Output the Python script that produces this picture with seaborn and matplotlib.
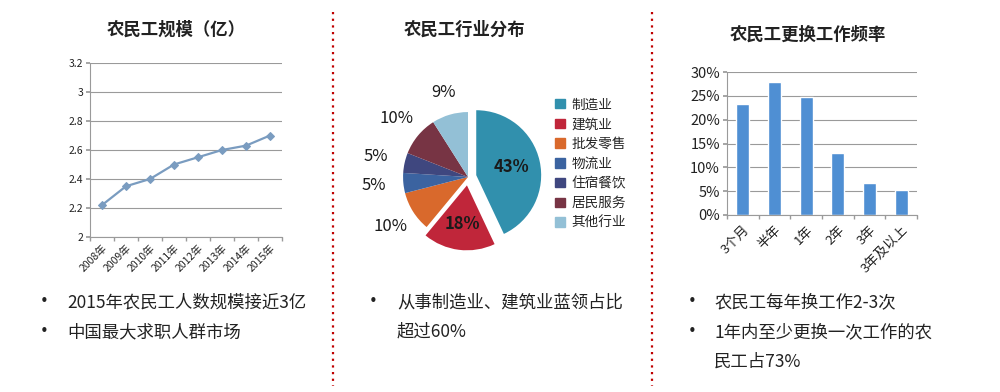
import numpy as np
import pandas as pd
import matplotlib
matplotlib.use("Agg")
import matplotlib.pyplot as plt
import matplotlib.patches as mpatches
from matplotlib.lines import Line2D
import seaborn as sns

# data
years = ['2008年', '2009年', '2010年', '2011年', '2012年', '2013年', '2014年', '2015年']
scale = [2.22, 2.35, 2.40, 2.50, 2.55, 2.60, 2.63, 2.70]

industries = ['制造业', '建筑业', '批发零售', '物流业', '住宿餐饮', '居民服务', '其他行业']
shares = [43, 18, 10, 5, 5, 10, 9]

freq_labels = ['3个月', '半年', '1年', '2年', '3年', '3年及以上']
freq = [23.3, 27.8, 24.7, 13.0, 6.7, 5.2]

bullets_left = ['2015年农民工人数规模接近3亿', '中国最大求职人群市场']
bullets_mid = ['从事制造业、建筑业蓝领占比', '超过60%']
bullets_right = ['农民工每年换工作2-3次', '1年内至少更换一次工作的农', '民工占73%']

sns.set_theme(style='white')
plt.rcParams['font.family'] = ['Noto Sans CJK SC', 'DejaVu Sans']
plt.rcParams['axes.unicode_minus'] = False

W, H = 1000, 392
fig = plt.figure(figsize=(10, 3.92), dpi=100)
fig.patch.set_facecolor('white')


def px_axes(x0, y0, x1, y1):
    # pixel box (top-left origin) -> figure axes
    return fig.add_axes([x0 / W, 1 - y1 / H, (x1 - x0) / W, (y1 - y0) / H])


grid_c = '#9a9a9a'
text_c = '#222222'

# ---- left: line chart ----
ax1 = px_axes(90, 63, 282, 237)
df1 = pd.DataFrame({'year': years, 'val': scale, 'x': np.arange(len(years))})
sns.lineplot(data=df1, x='x', y='val', ax=ax1, color='#7a9cc0', lw=1.6,
             marker='D', markersize=4, markeredgecolor='#7a9cc0')
ax1.set_xlim(-0.5, len(years) - 0.5)
ax1.set_ylim(2, 3.2)
ax1.set_yticks(np.arange(2, 3.21, 0.2))
ax1.set_yticklabels(['2', '2.2', '2.4', '2.6', '2.8', '3', '3.2'], fontsize=7.5, color=text_c)
ax1.set_xticks(np.arange(len(years)))
ax1.set_xticklabels(years, rotation=45, ha='right', rotation_mode='anchor', fontsize=7.5, color=text_c)
ax1.set_xticks(np.arange(-0.5, len(years)), minor=True)
ax1.tick_params(axis='x', which='major', length=0, pad=4)
ax1.tick_params(axis='x', which='minor', length=3, color=grid_c, direction='out', bottom=True)
ax1.tick_params(axis='y', length=3, color=grid_c, direction='out', left=True, pad=2)
ax1.grid(axis='y', color=grid_c, lw=0.8)
ax1.set_xlabel('')
ax1.set_ylabel('')
for s in ['top', 'right']:
    ax1.spines[s].set_visible(False)
for s in ['left', 'bottom']:
    ax1.spines[s].set_color(grid_c)
    ax1.spines[s].set_linewidth(0.8)

# ---- middle: pie ----
pie_colors = ['#3190ad', '#c0263a', '#d9692c', '#3b63a0', '#3f477f', '#773444', '#93c0d6']
ax2 = px_axes(368, 77, 568, 277)
explode = [0.13, 0.13, 0, 0, 0, 0, 0]
wedges, _ = ax2.pie(shares, colors=pie_colors, startangle=90, counterclock=False,
                    explode=explode, radius=1, wedgeprops=dict(linewidth=0))
ax2.set_xlim(-1.54, 1.54)
ax2.set_ylim(-1.54, 1.54)
ax2.set_aspect('equal')
ax2.axis('off')
label_r = [0.55, 0.6, 1.42, 1.45, 1.45, 1.42, 1.35]
for i, (w, v, r) in enumerate(zip(wedges, shares, label_r)):
    ang = np.deg2rad((w.theta1 + w.theta2) / 2)
    cx, cy = w.center
    ax2.text(cx + r * np.cos(ang), cy + r * np.sin(ang), f'{v}%', ha='center', va='center',
             fontsize=12, fontweight='bold' if i < 2 else 'medium', color='#1a1a1a', clip_on=False)

handles = [mpatches.Patch(color=c, label=l) for c, l in zip(pie_colors, industries)]
fig.legend(handles=handles, loc='upper left', bbox_to_anchor=(550 / W, 1 - 92 / H),
           frameon=False, fontsize=9.8, handlelength=0.7, handleheight=0.7,
           handletextpad=0.5, labelspacing=0.42, borderaxespad=0)

# ---- right: bar chart ----
ax3 = px_axes(727, 72, 917, 215)
df3 = pd.DataFrame({'label': freq_labels, 'val': freq})
sns.barplot(data=df3, x='label', y='val', ax=ax3, color='#4f8fd3', width=0.42, saturation=1)
ax3.set_xlim(-0.5, len(freq_labels) - 0.5)
ax3.set_ylim(0, 30)
ax3.set_yticks(np.arange(0, 31, 5))
ax3.set_yticklabels([f'{v}%' for v in range(0, 31, 5)], fontsize=10.5, color=text_c)
ax3.set_xticks(np.arange(len(freq_labels)))
ax3.set_xticklabels(freq_labels, rotation=45, ha='right', rotation_mode='anchor', fontsize=9.5, color=text_c)
ax3.set_xticks(np.arange(-0.5, len(freq_labels)), minor=True)
ax3.tick_params(axis='x', which='major', length=0, pad=6)
ax3.tick_params(axis='x', which='minor', length=3, color=grid_c, direction='out', bottom=True)
ax3.tick_params(axis='y', length=3, color=grid_c, direction='out', left=True, pad=2)
ax3.grid(axis='y', color=grid_c, lw=0.8)
ax3.set_axisbelow(True)
ax3.set_xlabel('')
ax3.set_ylabel('')
for s in ['top', 'right']:
    ax3.spines[s].set_visible(False)
for s in ['left', 'bottom']:
    ax3.spines[s].set_color(grid_c)
    ax3.spines[s].set_linewidth(0.8)

# ---- titles ----
fig.text(176 / W, 1 - 30 / H, '农民工规模（亿）', ha='center', va='center', fontsize=12.5, fontweight='bold', color=text_c)
fig.text(465 / W, 1 - 30 / H, '农民工行业分布', ha='center', va='center', fontsize=12.5, fontweight='bold', color=text_c)
fig.text(808 / W, 1 - 35 / H, '农民工更换工作频率', ha='center', va='center', fontsize=12.5, fontweight='bold', color=text_c)

# ---- separators ----
for xp in [333, 652]:
    fig.add_artist(Line2D([xp / W, xp / W], [1 - 12 / H, 1 - 386 / H], color='#c00000',
                          lw=1.6, linestyle=(0, (1, 2))))

# ---- bullet text ----
def bullets(x_dot, x_txt, lines, dots):
    for i, (t, d) in enumerate(zip(lines, dots)):
        y = 1 - (302 + 30 * i) / H
        if d:
            fig.text(x_dot / W, y, '•', ha='center', va='center', fontsize=10.5,
                     family='DejaVu Sans', color=text_c)
        fig.text(x_txt / W, y, t, ha='left', va='center', fontsize=12.5, color=text_c)


bullets(44, 67, bullets_left, [True, True])
bullets(373, 397, bullets_mid, [True, False])
bullets(692, 714, bullets_right, [True, True, False])

fig.savefig('out.png', dpi=100, facecolor='white')
